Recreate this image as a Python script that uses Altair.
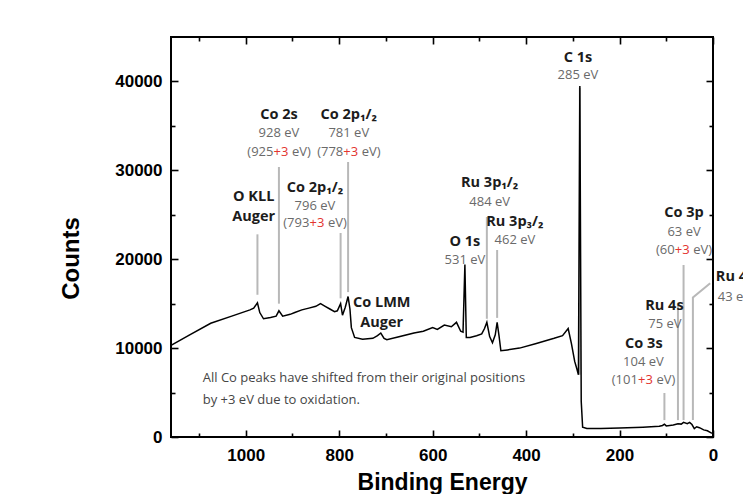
import altair as alt
import pandas as pd

# ---------------- spectrum (binding energy in eV, counts) ----------------
be = [1160, 1120, 1075, 1030, 991, 983, 975, 970, 962, 947,
      935, 929, 921, 905, 895, 880, 865, 850, 840, 830,
      820, 810, 804, 797, 793, 787, 781, 777, 774, 767,
      750, 728, 718, 711, 704, 698, 670, 640, 620, 600,
      590, 575, 560, 549, 540, 535, 531, 528, 520, 506,
      495, 489, 484, 478, 472, 466, 462, 458, 454, 440,
      414, 380, 340, 322, 310, 303, 296, 291, 288, 285,
      282, 279, 270, 240, 200, 150, 115, 108, 104, 100,
      85, 75, 68, 63, 55, 50, 45, 40, 35, 29,
      20, 12, 5, 1]
counts = [10300, 11500, 12800, 13600, 14300, 14500, 15100, 14000, 13300, 13450,
          13600, 14200, 13600, 13800, 14000, 14300, 14500, 14700, 15000, 14700,
          14400, 14100, 14200, 15000, 13700, 14600, 15800, 14400, 12300, 11200,
          11000, 11100, 11400, 11700, 11100, 10950, 11300, 11700, 11900, 12300,
          12100, 12600, 12400, 12900, 11900, 11800, 19400, 11200, 11200, 11400,
          11600, 12200, 12900, 11300, 10600, 11500, 12900, 11400, 9700, 9800,
          10000, 10500, 11100, 11400, 12200, 10500, 8500, 7600, 7000, 39500,
          4000, 1100, 950, 950, 1000, 1100, 1200, 1300, 1450, 1250,
          1350, 1500, 1450, 1650, 1500, 1650, 1400, 950, 1150, 1050,
          800, 700, 500, 400]

# ---------------- peak marker lines ----------------
peak_x = [975, 929, 797, 781, 484, 462, 285, 104, 75, 63]
peak_top = [22800, 30375, 22950, 30940, 24750, 21040, 39300, 4950, 14850, 19350]
peak_bottom = [16000, 15000, 15600, 16300, 13300, 13400, 7000, 1900, 1900, 1900]

lead_x = [6, 43, 43]
lead_y = [17300, 15700, 1900]
lead_order = [0, 1, 2]

# ---------------- labels ----------------
bold_text = ["Co 2s", "Co 2p\u2081/\u2082", "Co 2p\u2081/\u2082", "O KLL", "Auger",
             "Co LMM", "Auger", "O 1s", "Ru 3p\u2081/\u2082", "Ru 3p\u2083/\u2082",
             "C 1s", "Co 3p", "Ru 4s", "Co 3s"]
bold_x = [929, 779.5, 852, 983, 983, 709, 709, 531, 478, 424, 289, 62, 104, 148]
bold_y = [36225, 36225, 28013, 27000, 24750, 15075, 12825, 21938, 28575, 24188,
          42638, 25200, 14750, 10463]

gray_text = ["928 eV", "781 eV", "796 eV", "531 eV", "484 eV", "462 eV",
             "285 eV", "63 eV", "75 eV", "104 eV"]
gray_x = [929, 779.5, 852, 531, 478, 424, 289, 62, 103, 149]
gray_y = [34200, 34200, 25988, 19913, 26438, 22163, 40725, 23063, 12700, 8438]

side_bold_text = ["Ru 4p"]
side_gray_text = ["43 eV"]
side_x = [-6]
side_bold_y = [18000]
side_gray_y = [15750]

paren3_x = [929, 779.5, 852, 149]
paren3_y = [32063, 32063, 24075, 6413]
paren3_left = ["(925", "(778", "(793", "(101"]
paren2_x = [62]
paren2_y = [21038]
paren2_left = ["(60"]
shift_text = "+3"
close_text = "eV)"

note_text = ["All Co peaks have shifted from their original positions",
             "by +3 eV due to oxidation."]
note_x = [1092, 1092]
note_y = [6638, 4163]

x_major = [0, 200, 400, 600, 800, 1000]
x_minor = [100, 300, 500, 700, 900, 1100]
y_major = [0, 10000, 20000, 30000, 40000]
y_minor = [5000, 15000, 25000, 35000]

AX_FONT = "Liberation Sans"
LB_FONT = "Open Sans"
DARK = "#1c1c1c"
GRAY = "#6a6a6a"
RED = "#e3342f"
LINE_GRAY = "#b8b8b8"

xs = alt.Scale(domain=[0, 1160], reverse=True, nice=False, zero=False)
ys = alt.Scale(domain=[0, 45000], nice=False, zero=False)


def axis(orient, values, size, show_labels, **kw):
    # inward ticks: negative tick length given as an expression
    return alt.Axis(orient=orient, values=values,
                    tickSize=alt.ExprRef(expr=str(-size)),
                    labels=show_labels, domain=False, grid=False, ticks=True,
                    tickColor="black", tickWidth=1.6, **kw)


spec = pd.DataFrame({"be": be, "counts": counts})


def spec_layer(xaxis, yaxis, visible):
    return alt.Chart(spec).mark_line(
        color="black", strokeWidth=1.5, opacity=1 if visible else 0
    ).encode(
        x=alt.X("be:Q", scale=xs, axis=xaxis),
        y=alt.Y("counts:Q", scale=ys, axis=yaxis),
    )


bottom_major = axis("bottom", x_major, 7, True, format="d", labelFont=AX_FONT,
                    labelFontSize=17, labelFontWeight="bold", labelColor="black",
                    labelPadding=17, labelFlush=False, labelOverlap=False,
                    title="Binding Energy", titleFont=AX_FONT, titleFontSize=23,
                    titleFontWeight="bold", titleColor="black", titleY=52,
                    titleBaseline="alphabetic")
left_major = axis("left", y_major, 7, True, format="d", labelFont=AX_FONT,
                  labelFontSize=17, labelFontWeight="bold", labelColor="black",
                  labelPadding=16, labelFlush=False, labelOverlap=False,
                  title="Counts", titleFont=AX_FONT, titleFontSize=24,
                  titleFontWeight="bold", titleColor="black", titleX=-93,
                  titleY=221, titleAngle=270, titleBaseline="alphabetic")

main = spec_layer(bottom_major, left_major, True)
minor = spec_layer(axis("bottom", x_minor, 4, False, title=None),
                   axis("left", y_minor, 4, False, title=None), False)
top_major = spec_layer(axis("top", x_major, 7, False, title=None),
                       axis("right", y_major, 7, False, title=None), False)
top_minor = spec_layer(axis("top", x_minor, 4, False, title=None),
                       axis("right", y_minor, 4, False, title=None), False)

peaks = pd.DataFrame({"x": peak_x, "y1": peak_top, "y2": peak_bottom})
rules = alt.Chart(peaks).mark_rule(color=LINE_GRAY, strokeWidth=2).encode(
    x=alt.X("x:Q", scale=xs, axis=None),
    y=alt.Y("y1:Q", scale=ys, axis=None),
    y2="y2:Q",
)

lead = alt.Chart(pd.DataFrame({"x": lead_x, "y": lead_y, "o": lead_order})).mark_line(
    color=LINE_GRAY, strokeWidth=2
).encode(
    x=alt.X("x:Q", scale=xs, axis=None),
    y=alt.Y("y:Q", scale=ys, axis=None),
    order="o:Q",
)


def text_layer(xv, yv, tv, color, size, weight="normal", align="center", dx=0):
    df = pd.DataFrame({"x": xv, "y": yv, "t": tv})
    return alt.Chart(df).mark_text(
        font=LB_FONT, fontSize=size, fontWeight=weight, color=color,
        align=align, baseline="middle", dx=dx
    ).encode(
        x=alt.X("x:Q", scale=xs, axis=None),
        y=alt.Y("y:Q", scale=ys, axis=None),
        text="t:N",
    )


texts = [
    text_layer(bold_x, bold_y, bold_text, DARK, 14.5, "bold"),
    text_layer(gray_x, gray_y, gray_text, GRAY, 13),
    text_layer(side_x, side_bold_y, side_bold_text, DARK, 14.5, "bold", "left"),
    text_layer(side_x, side_gray_y, side_gray_text, GRAY, 13, "normal", "left", 2),
    text_layer(paren3_x, paren3_y, paren3_left, GRAY, 13, "normal", "right", -5.5),
    text_layer(paren3_x, paren3_y, [shift_text] * len(paren3_x), RED, 13, "normal", "center", 2),
    text_layer(paren3_x, paren3_y, [close_text] * len(paren3_x), GRAY, 13, "normal", "left", 13),
    text_layer(paren2_x, paren2_y, paren2_left, GRAY, 13, "normal", "right", -9.3),
    text_layer(paren2_x, paren2_y, [shift_text] * len(paren2_x), RED, 13, "normal", "center", -1.8),
    text_layer(paren2_x, paren2_y, [close_text] * len(paren2_x), GRAY, 13, "normal", "left", 9.1),
    text_layer(note_x, note_y, note_text, "#454545", 13, "normal", "left"),
]

chart = alt.layer(
    rules, lead, main, minor, top_major, top_minor, *texts
).resolve_axis(
    x="independent", y="independent"
).properties(
    width=542, height=400,
    padding={"left": 163, "top": 29, "right": 30, "bottom": 57},
    autosize=alt.AutoSizeParams(type="none"),
).configure_view(
    stroke="black", strokeWidth=2
)

chart.save("out.html", embed_options={"renderer": "svg", "actions": False})
